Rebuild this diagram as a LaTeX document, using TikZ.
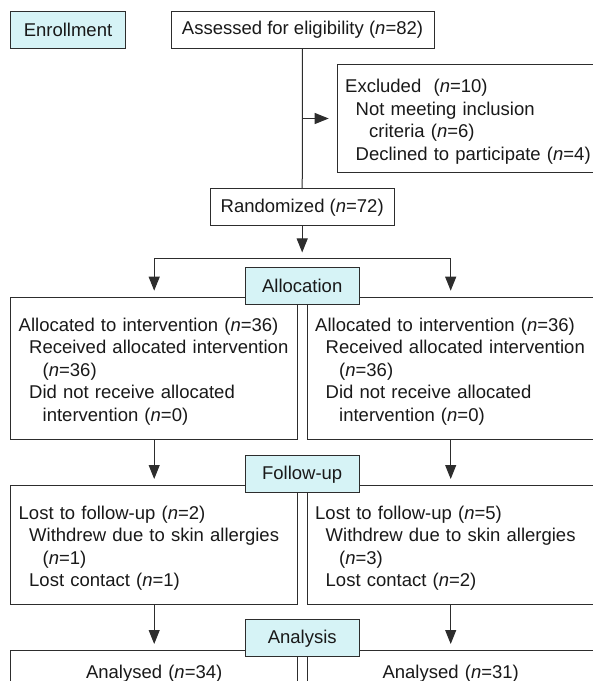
\documentclass[tikz,border=0pt]{standalone}
\usepackage{fontspec}
\setmainfont{Liberation Sans}
\usepackage{tikz}
\usetikzlibrary{arrows.meta, positioning, calc}
\definecolor{stagecyan}{RGB}{214,243,246}
\definecolor{linegrey}{RGB}{45,45,45}
\tikzstyle{stage} = [rectangle, minimum width=114.3pt, minimum height=36.7pt, text centered, draw=linegrey, fill=stagecyan, line width=1pt]
\tikzstyle{count} = [rectangle, minimum height=36.7pt, text centered, draw=linegrey, fill=white, line width=1pt]
\tikzstyle{group} = [rectangle, text width=271pt, inner xsep=8pt, align=left, draw=linegrey, fill=white, line width=1pt, anchor=north west, execute at begin node={\hyphenpenalty=10000\rule{0pt}{19.5pt}}]
\tikzstyle{arrow} = [line width=1pt, draw=linegrey, -{Triangle[length=14pt,width=11pt]}, shorten >=6pt]
\tikzstyle{link} = [line width=1pt, draw=linegrey]

\begin{document}
\begin{tikzpicture}[x=1pt, y=-1pt, font=\fontsize{18.5}{22.5}\selectfont, text=black!90]
    \clip (0,0) rectangle (593,681);
    \node (enrol) [stage, minimum width=115pt] at (68,30) {Enrollment};
    \node (assess) [count, minimum width=263pt] at (302.5,30) {Assessed for eligibility (\textit{n}=82)};
    \node (exclude) [group, text width=250pt, minimum height=107.4pt] at (336.7,64.3) {Excluded~~(\textit{n}=10)\\
        \hspace*{10.5pt}Not meeting inclusion\\
        \hspace*{24pt}criteria (\textit{n}=6)\\
        \hspace*{10.5pt}Declined to participate (\textit{n}=4)};
    \node (random) [count, minimum width=184pt] at (302.2,207.3) {Randomized (\textit{n}=72)};

    \node (groupa) [group, minimum height=142.3pt] at (10.2,296.7) {Allocated to intervention (\textit{n}=36)\\
        \hspace*{10.5pt}Received allocated intervention\\
        \hspace*{24pt}(\textit{n}=36)\\
        \hspace*{10.5pt}Did not receive allocated\\
        \hspace*{24pt}intervention (\textit{n}=0)};
    \node (groupb) [group, minimum height=142.3pt] at (306.7,296.7) {Allocated to intervention (\textit{n}=36)\\
        \hspace*{10.5pt}Received allocated intervention\\
        \hspace*{24pt}(\textit{n}=36)\\
        \hspace*{10.5pt}Did not receive allocated\\
        \hspace*{24pt}intervention (\textit{n}=0)};

    \node (losta) [group, minimum height=119pt] at (10.2,485) {Lost to follow-up (\textit{n}=2)\\
        \hspace*{10.5pt}Withdrew due to skin allergies\\
        \hspace*{24pt}(\textit{n}=1)\\
        \hspace*{10.5pt}Lost contact (\textit{n}=1)};
    \node (lostb) [group, minimum height=119pt] at (306.7,485) {Lost to follow-up (\textit{n}=5)\\
        \hspace*{10.5pt}Withdrew due to skin allergies\\
        \hspace*{24pt}(\textit{n}=3)\\
        \hspace*{10.5pt}Lost contact (\textit{n}=2)};

    \node (analyseda) [group, align=center, minimum height=40pt] at (10.2,650) {Analysed (\textit{n}=34)};
    \node (analysedb) [group, align=center, minimum height=40pt] at (306.7,650) {Analysed (\textit{n}=31)};

    \draw [link] (assess) -- (random);
    \coordinate (split) at (assess.south |- exclude.west);
    \draw [arrow, shorten >=8pt] (split) -- (exclude.west);
    % split into the two arms
    \coordinate (fork) at ($(random.south)+(0,32.3)$);
    \draw [arrow] (random) -- (fork);
    \draw [arrow] (fork) -| (groupa.north);
    \draw [arrow] (fork) -| (groupb.north);
    \draw [arrow] (groupa) -- (losta);
    \draw [arrow] (groupb) -- (lostb);
    \draw [arrow] (losta) -- (analyseda);
    \draw [arrow] (lostb) -- (analysedb);

    \node (alloc) [stage] at (302.2,286.2) {Allocation};
    \node (follow) [stage] at (302.2,474.3) {Follow-up};
    \node (analysis) [stage] at (302.2,638.3) {Analysis};
\end{tikzpicture}
\end{document}
